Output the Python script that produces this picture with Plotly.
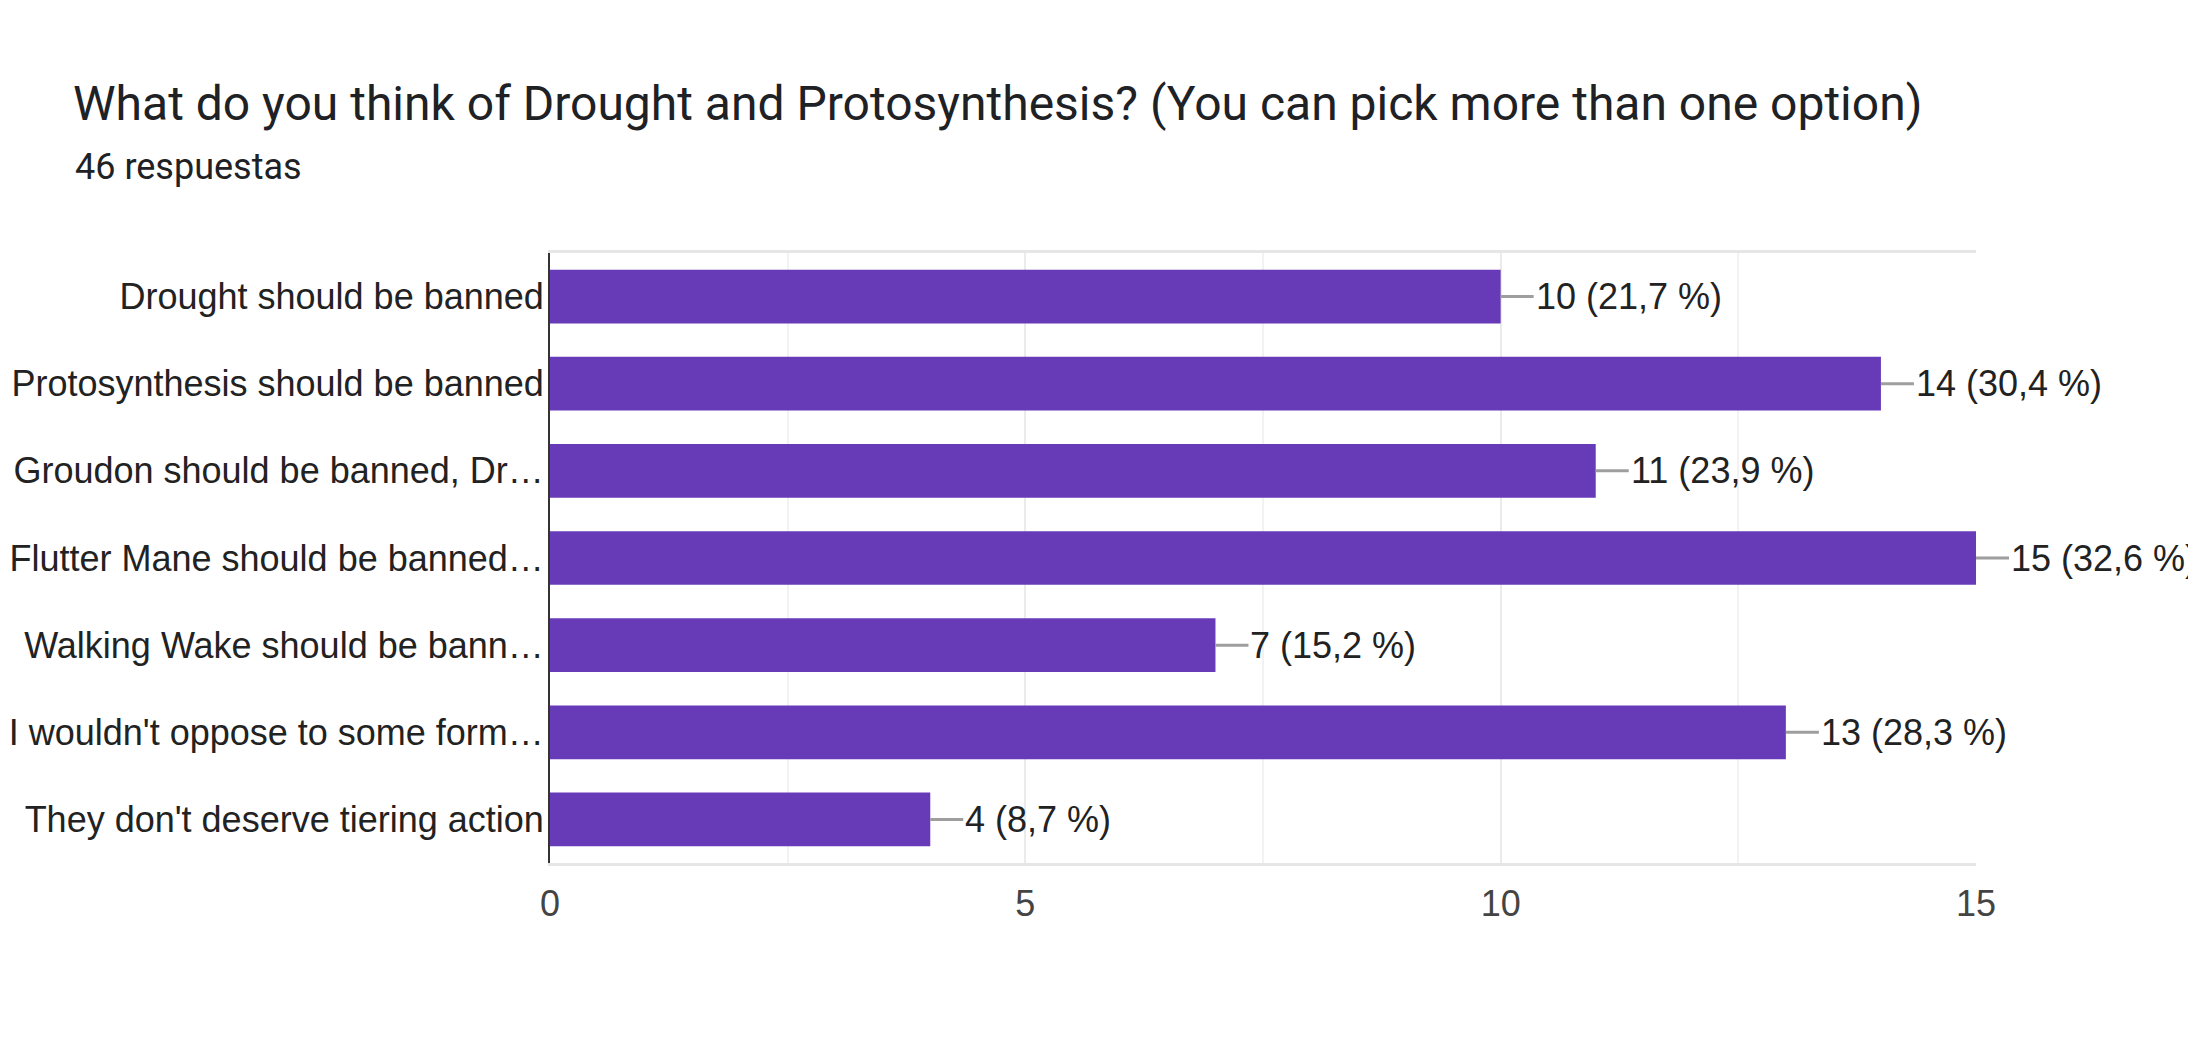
import plotly.graph_objects as go

categories = [
    "Drought should be banned",
    "Protosynthesis should be banned",
    "Groudon should be banned, Dr…",
    "Flutter Mane should be banned…",
    "Walking Wake should be bann…",
    "I wouldn't oppose to some form…",
    "They don't deserve tiering action",
]
counts = [10, 14, 11, 15, 7, 13, 4]
percents = ["21,7", "30,4", "23,9", "32,6", "15,2", "28,3", "8,7"]
x_ticks = [0, 5, 10, 15]

title_text = "What do you think of Drought and Protosynthesis? (You can pick more than one option)"
subtitle_text = "46 respuestas"

# la página añade 8 px de margen al body
OFF = 8
W, H = 2196 - OFF, 1044 - OFF
ml, mt = 550 - OFF, 253 - OFF
plot_w, plot_h = 1426, 610
mr = W - ml - plot_w
mb = H - mt - plot_h

fig = go.Figure(go.Bar(
    x=counts,
    y=categories,
    orientation="h",
    marker=dict(color="#673ab7", line=dict(width=0)),
    hoverinfo="skip",
))

# etiquetas de valor con línea guía gris
for c, v, p in zip(categories, counts, percents):
    fig.add_annotation(
        x=v, y=c, xref="x", yref="y",
        text=f"{v} ({p} %)",
        showarrow=True, arrowhead=0, arrowwidth=3, arrowcolor="#9e9e9e",
        ax=33, ay=0, xanchor="left", yanchor="middle",
        font=dict(family="Liberation Sans, Arial", size=36, color="#222222"),
    )

# subtítulo
fig.add_annotation(
    x=(73 - OFF - ml) / plot_w, y=(H - mb - (167 - OFF)) / plot_h,
    xref="paper", yref="paper", xanchor="left", yanchor="middle",
    text=subtitle_text, showarrow=False,
    font=dict(family="Roboto", size=36, color="#202124"),
)

fig.update_layout(
    width=W, height=H,
    margin=dict(l=ml, r=mr, t=mt, b=mb, autoexpand=False),
    paper_bgcolor="white", plot_bgcolor="white",
    bargap=0.384,
    showlegend=False,
    title=dict(
        text=title_text,
        x=(73 - OFF) / W, xref="container", xanchor="left",
        y=1 - (103 - OFF) / H, yref="container", yanchor="middle",
        font=dict(family="Roboto", size=48, color="#202124"),
    ),
)

fig.update_xaxes(
    range=[0, 15],
    tickvals=x_ticks,
    showgrid=True, gridcolor="#ebebeb", gridwidth=2,
    minor=dict(dtick=2.5, showgrid=True, gridcolor="#f2f2f2", gridwidth=2),
    showline=True, linecolor="#e6e6e6", linewidth=3, mirror=True,
    zeroline=False,
    ticks="", ticklabelstandoff=7,
    tickfont=dict(family="Liberation Sans, Arial", size=36, color="#444444"),
)

fig.update_yaxes(
    categoryorder="array", categoryarray=categories,
    autorange="reversed",
    showgrid=False, zeroline=False,
    showline=True, linecolor="#333333", linewidth=2,
    ticks="", ticklabelstandoff=-3,
    tickfont=dict(family="Liberation Sans, Arial", size=36, color="#222222"),
)

fig.write_html("out.html")
